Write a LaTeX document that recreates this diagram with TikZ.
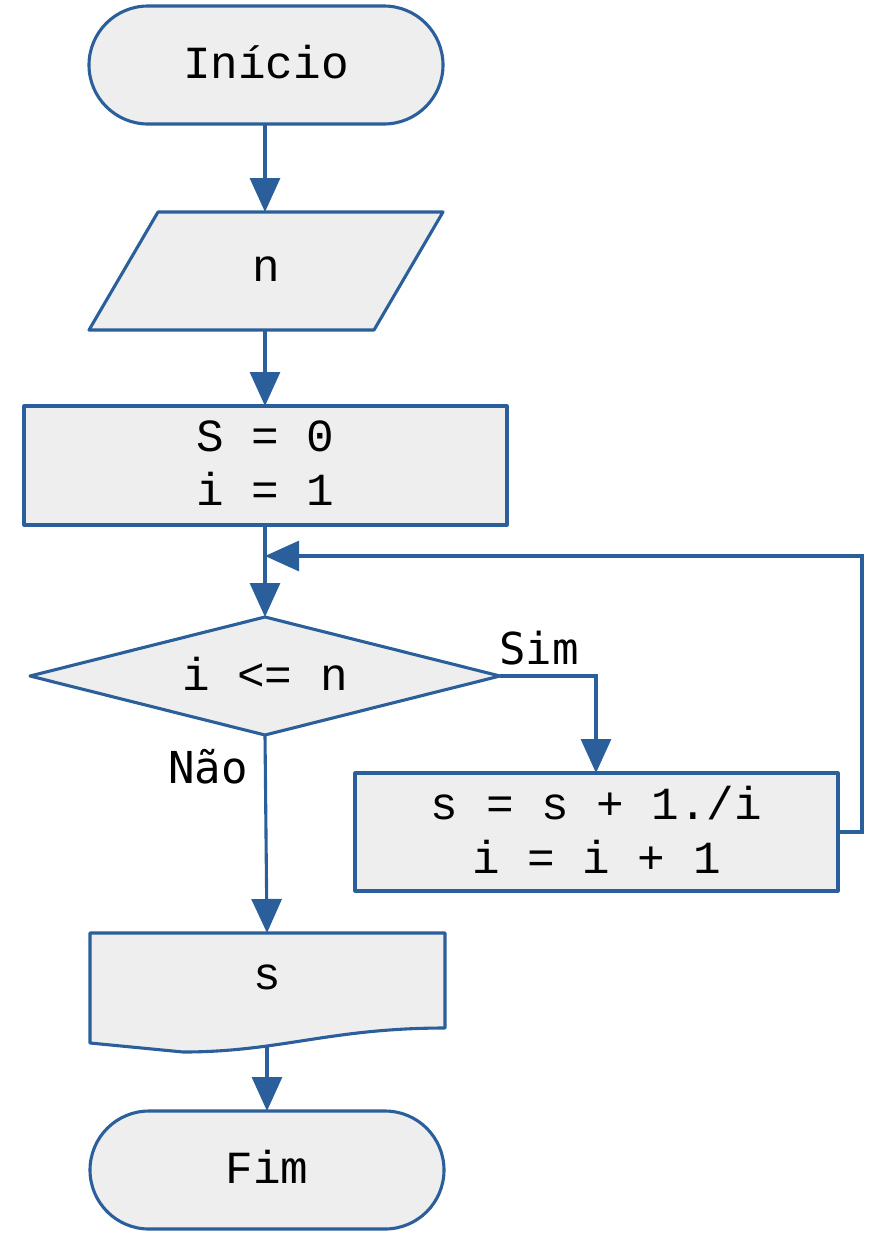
\documentclass[tikz,border=0pt]{standalone}
\usepackage{fontspec}
\setmonofont{Liberation Mono}
\newfontfamily\labelfont{DejaVu Sans Mono}
\usetikzlibrary{arrows.meta,shapes.geometric,shapes.symbols}
\definecolor{fcblue}{HTML}{2A5F9B}
\definecolor{fcfill}{HTML}{EEEEEE}
\tikzset{
  fc/.style={draw=fcblue, fill=fcfill, line width=3.1pt, line join=round},
  txt/.style={font=\ttfamily\fontsize{46}{54}\selectfont, align=center, inner sep=0pt},
  lbl/.style={font=\labelfont\fontsize{44}{50}\selectfont, inner sep=0pt},
  conn/.style={draw=fcblue, line width=3.1pt, -{Triangle[length=34pt,width=30pt]}},
}
\begin{document}
\begin{tikzpicture}[x=1pt,y=-1pt]
\useasboundingbox (0,0) rectangle (886,1240);
% Início
\path[fc] (148,6) -- (384,6) arc[start angle=-90,end angle=90,radius=59] -- (148,124) arc[start angle=90,end angle=270,radius=59] -- cycle;
\node[txt] (ini) at (266,62) {Início};
\coordinate (iniB) at (265,124);
% n
\path[fc] (158,212) -- (443,212) -- (374,330) -- (89,330) -- cycle;
\node[txt] (n) at (266,269) {n};
\coordinate (nT) at (265,212);
\coordinate (nB) at (265,330);
% S=0 i=1
\path[fc] (24,406) rectangle (507,525);
\node[txt] (init) at (265.5,463.5) {S = 0\\i = 1};
\coordinate (initT) at (265,406);
\coordinate (initB) at (265,525);
% diamond
\path[fc] (30,676) -- (265,617) -- (500,676) -- (265,735) -- cycle;
\node[txt] (cond) at (265,674) {i <= n};
\coordinate (cT) at (265,617);
\coordinate (cR) at (500,676);
\coordinate (cB) at (265,735);
% process
\path[fc] (355,773) rectangle (838,891);
\node[txt] (proc) at (596.5,830) {s = s + 1./i\\i = i + 1};
\coordinate (pT) at (596,773);
\coordinate (pR) at (838,832);
% document
\path[fc] (90,933) -- (445,933) -- (445,1028) .. controls (330,1028) and (280,1052) .. (183,1052) -- (90,1043) -- cycle;
\node[txt] (out) at (267,977) {s};
\coordinate (oT) at (267,933);
\coordinate (oB) at (267,1047);
% Fim
\path[fc] (149,1111) -- (385,1111) arc[start angle=-90,end angle=90,radius=59] -- (149,1229) arc[start angle=90,end angle=270,radius=59] -- cycle;
\node[txt] (fim) at (267,1167) {Fim};
\coordinate (fT) at (267,1111);
% connectors
\draw[conn] (iniB) -- (nT);
\draw[conn] (nB) -- (initT);
\draw[conn] (initB) -- (cT);
\coordinate (loopA) at (862,832);
\coordinate (loopB) at (862,556);
\coordinate (loopT) at (265,556);
\draw[conn] (pR) -- (loopA) -- (loopB) -- (loopT);
\coordinate (simC) at (596,676);
\draw[conn] (cR) -- (simC) -- (pT);
\draw[conn] (cB) -- (oT);
\draw[conn] (oB) -- (fT);
\node[lbl] (sim) at (539,648) {Sim};
\node[lbl] (nao) at (208,767) {Não};
\end{tikzpicture}
\end{document}
